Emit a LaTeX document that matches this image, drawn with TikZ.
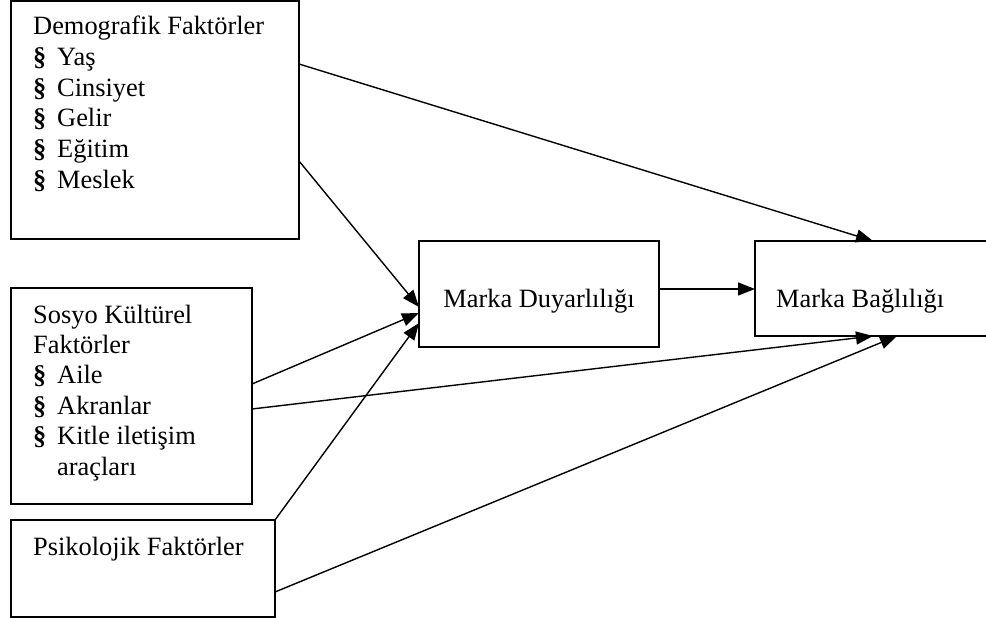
\documentclass[tikz,border=0pt]{standalone}
\usepackage{fontspec}
\setmainfont{Liberation Serif}
\usetikzlibrary{arrows.meta}
\newcommand{\bsec}{\makebox[24pt][l]{\textbf{§}}}
\begin{document}
\begin{tikzpicture}[x=1pt,y=-1pt,
  box/.style={draw, line width=1.4pt, rectangle, inner sep=0pt, outer sep=0pt, anchor=north west},
  lbl/.style={anchor=base west, inner sep=0pt, font=\fontsize{26.4}{30.5}\selectfont},
  clbl/.style={anchor=base, inner sep=0pt, font=\fontsize{26.4}{30.5}\selectfont},
  conn/.style={line width=1.4pt, -{Triangle[length=17pt,width=13pt]}}
  ]
\useasboundingbox (0,0) rectangle (986,618);
\clip (0,0) rectangle (986,618);
% boxes
\node[box, minimum width=288pt, minimum height=238pt] (demo) at (11,1) {};
\node[box, minimum width=241pt, minimum height=216pt] (sosyo) at (11,288) {};
\node[box, minimum width=264pt, minimum height=97pt] (psiko) at (11,520) {};
\node[box, minimum width=240pt, minimum height=106pt] (md) at (419,241) {};
\node[box, minimum width=260pt, minimum height=95pt] (mb) at (755,241) {};
% texts
\node[lbl] (d0) at (33,35) {Demografik Faktörler};
\node[lbl] (d1) at (33,65.6) {\bsec Yaş};
\node[lbl] (d2) at (33,96.2) {\bsec Cinsiyet};
\node[lbl] (d3) at (33,126.8) {\bsec Gelir};
\node[lbl] (d4) at (33,157.4) {\bsec Eğitim};
\node[lbl] (d5) at (33,188) {\bsec Meslek};
\node[lbl] (s0) at (33,323) {Sosyo Kültürel};
\node[lbl] (s1) at (33,353.4) {Faktörler};
\node[lbl] (s2) at (33,383.8) {\bsec Aile};
\node[lbl] (s3) at (33,414.2) {\bsec Akranlar};
\node[lbl] (s4) at (33,444.6) {\bsec Kitle iletişim};
\node[lbl] (s5) at (57,475) {araçları};
\node[lbl] (p0) at (33,555) {Psikolojik Faktörler};
\node[clbl] (mdt) at (539,307) {Marka Duyarlılığı};
\node[lbl] (mbt) at (776,307) {Marka Bağlılığı};
% connectors
\draw[conn] ([yshift=-63pt]demo.north east) -- ([xshift=118pt]mb.north west);
\draw[conn] ([yshift=-160pt]demo.north east) -- ([yshift=-66pt]md.north west);
\draw[conn] ([yshift=-96pt]sosyo.north east) -- ([yshift=-72pt]md.north west);
\draw[conn] ([yshift=-121pt]sosyo.north east) -- ([xshift=118pt]mb.south west);
\draw[conn] (psiko.north east) -- ([yshift=-82pt]md.north west);
\draw[conn] ([yshift=-72pt]psiko.north east) -- ([xshift=142pt]mb.south west);
\draw[conn] ([yshift=-48pt]md.north east) -- ([yshift=-48pt]mb.north west);
\end{tikzpicture}
\end{document}
